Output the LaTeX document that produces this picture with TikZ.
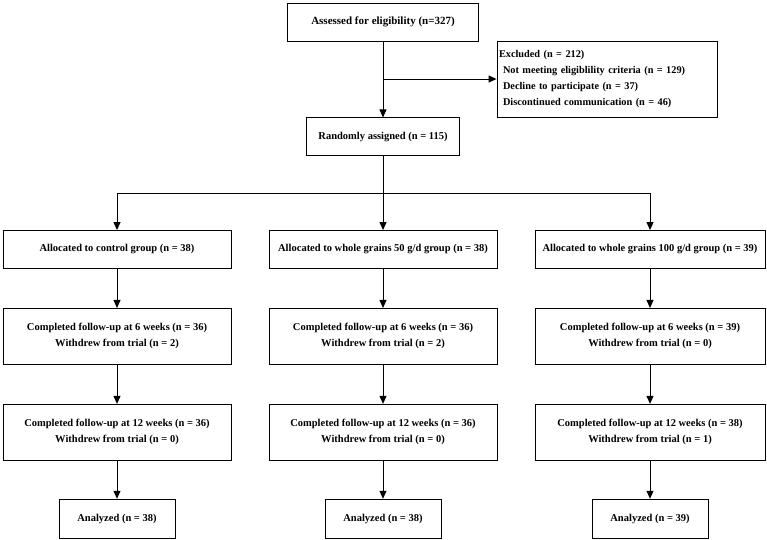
\documentclass[tikz,border=0pt]{standalone}
\usepackage{fontspec}
\setmainfont{Liberation Serif}
\usepackage{tikz}
\usetikzlibrary{arrows.meta, positioning}

\begin{document}
\begin{tikzpicture}[x=1pt, y=1pt,
    box/.style={rectangle, draw=black, line width=0.9pt, inner sep=1pt, align=center,
                font=\bfseries\fontsize{10.5}{16}\selectfont},
    arr/.style={-{Triangle[length=8pt, width=7pt]}, line width=0.9pt}
]
\useasboundingbox (0,0) rectangle (767,-539);
\node[box, minimum width=191pt, minimum height=38pt, font=\bfseries\fontsize{11}{16}\selectfont] (assess) at (383,-22) {Assessed for eligibility (n=327)};
\node[box, minimum width=220pt, minimum height=76pt, text width=216pt, align=left,
      font=\bfseries\fontsize{10.3}{16}\selectfont] (excl) at (607,-79)
     {Excluded (n = 212)\\
      \hspace*{4pt}Not meeting eligiblility criteria (n = 129)\\
      \hspace*{4pt}Decline to participate (n = 37)\\
      \hspace*{4pt}Discontinued communication (n = 46)};
\node[box, minimum width=153pt, minimum height=38pt, below=76pt of assess] (rand) {Randomly assigned (n = 115)};
\coordinate[below=37.5pt of rand.south] (split);
% groups
\node[box, minimum width=228pt, minimum height=38pt] (ctl) at (117,-249.5) {Allocated to control group (n = 38)};
\node[box, minimum width=228pt, minimum height=38pt] (wg50) at (383,-249.5) {Allocated to whole grains 50 g/d group (n = 38)};
\node[box, minimum width=230pt, minimum height=38pt] (wg100) at (650,-249.5) {Allocated to whole grains 100 g/d group (n = 39)};
% 6 weeks
\node[box, minimum width=228pt, minimum height=56pt, below=39pt of ctl] (ctlsix) {Completed follow-up at 6 weeks (n = 36)\\Withdrew from trial (n = 2)};
\node[box, minimum width=228pt, minimum height=56pt, below=39pt of wg50] (wgfsix) {Completed follow-up at 6 weeks (n = 36)\\Withdrew from trial (n = 2)};
\node[box, minimum width=230pt, minimum height=56pt, below=39pt of wg100] (wghsix) {Completed follow-up at 6 weeks (n = 39)\\Withdrew from trial (n = 0)};
% 12 weeks
\node[box, minimum width=228pt, minimum height=56pt, below=39pt of ctlsix] (ctltw) {Completed follow-up at 12 weeks (n = 36)\\Withdrew from trial (n = 0)};
\node[box, minimum width=228pt, minimum height=56pt, below=39pt of wgfsix] (wgftw) {Completed follow-up at 12 weeks (n = 36)\\Withdrew from trial (n = 0)};
\node[box, minimum width=230pt, minimum height=56pt, below=39pt of wghsix] (wghtw) {Completed follow-up at 12 weeks (n = 38)\\Withdrew from trial (n = 1)};
% analyzed
\node[box, minimum width=116pt, minimum height=39pt, below=38pt of ctltw] (ctlan) {Analyzed (n = 38)};
\node[box, minimum width=116pt, minimum height=39pt, below=38pt of wgftw] (wgfan) {Analyzed (n = 38)};
\node[box, minimum width=116pt, minimum height=39pt, below=38pt of wghtw] (wghan) {Analyzed (n = 39)};

\draw[arr] (assess) -- (rand);
\draw[arr] (assess.south |- excl.west) -- (excl.west);
\draw[arr] (rand) -- (split) -| (ctl);
\draw[arr] (split) -- (wg50);
\draw[arr] (split) -| (wg100);
\draw[arr] (ctl) -- (ctlsix);
\draw[arr] (wg50) -- (wgfsix);
\draw[arr] (wg100) -- (wghsix);
\draw[arr] (ctlsix) -- (ctltw);
\draw[arr] (wgfsix) -- (wgftw);
\draw[arr] (wghsix) -- (wghtw);
\draw[arr] (ctltw) -- (ctlan);
\draw[arr] (wgftw) -- (wgfan);
\draw[arr] (wghtw) -- (wghan);
\end{tikzpicture}
\end{document}
